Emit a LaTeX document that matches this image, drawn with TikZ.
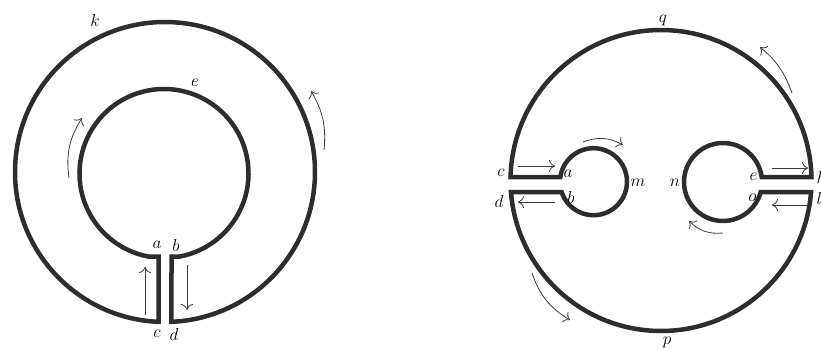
\documentclass[tikz,border=0pt]{standalone}
\usetikzlibrary{arrows.meta,calc}
\definecolor{wallc}{RGB}{45,45,45}
\definecolor{arrc}{RGB}{60,60,60}
\begin{document}
\begin{tikzpicture}[x=1pt,y=1pt,
  wall/.style={draw=wallc,line width=4.5pt,line join=miter},
  flow/.style={draw=arrc,line width=0.8pt,-{Computer Modern Rightarrow[length=6pt,width=12pt]}},
  lab/.style={inner sep=0pt,font=\fontsize{16}{18}\selectfont}]
\useasboundingbox (0,0) rectangle (821,349);
% ---------- left figure ----------
\coordinate (Co) at (165,177);
\coordinate (Ci) at (164,175.5);
\draw[wall] ($(Co)+(267.52:150)$) arc[start angle=267.52,end angle=-87.52,radius=150]
  -- (171.5,92.5) -- ($(Ci)+(280.8:84.5)$) arc[start angle=280.8,end angle=619.2,radius=84.5]
  -- (158.5,92.5) -- cycle;
\node[lab] (k) at (95,329) {$k$};
\node[lab] (e) at (195,266) {$e$};
\node[lab] (a) at (157,104) {$a$};
\node[lab] (b) at (176,104) {$b$};
\node[lab] (c) at (157,15) {$c$};
\node[lab] (d) at (174,15) {$d$};
\coordinate (u1) at (145,34); \coordinate (u2) at (145,82);
\coordinate (v1) at (187,84); \coordinate (v2) at (187,39);
\draw[flow] (u1) -- (u2);
\draw[flow] (v1) -- (v2);
\coordinate (w1) at (69,171); \coordinate (w2) at (82,231);
\draw[flow] (w1) to[bend left=20] (w2);
\coordinate (x1) at (324,199); \coordinate (x2) at (311,258);
\draw[flow] (x1) to[bend right=18] (x2);
% ---------- right figure ----------
\coordinate (Or) at (661,168.5);
\coordinate (Sl) at (593.5,167.3);
\coordinate (Sr) at (723,167);
\draw[wall] ($(Or)+(178.667:150.5)$) arc[start angle=178.667,end angle=1.333,radius=150.5]
  -- ($(Sr)+(7.366:39)$) arc[start angle=7.366,end angle=345.14,radius=39]
  -- ($(Or)+(-4.382:150.5)$) arc[start angle=-4.382,end angle=-175.618,radius=150.5]
  -- ($(Sl)+(197.906:33.5)$) arc[start angle=197.906,end angle=531.935,radius=33.5]
  -- cycle;
\node[lab] (q) at (663,329) {$q$};
\node[lab] (p) at (667,7) {$p$};
\node[lab] (c2) at (501,176) {$c$};
\node[lab] (d2) at (499,148) {$d$};
\node[lab] (a2) at (568,175) {$a$};
\node[lab] (b2) at (571,152) {$b$};
\node[lab] (m) at (638,166) {$m$};
\node[lab] (n) at (675,166) {$n$};
\node[lab] (e2) at (753.5,172) {$e$};
\node[lab] (o) at (752.5,151) {$o$};
\node[lab,anchor=west] (h) at (816.5,172) {$h$};
\node[lab,anchor=west] (l) at (816.5,151) {$l$};
\coordinate (r1) at (518,183); \coordinate (r2) at (555,183);
\coordinate (s1) at (555,147); \coordinate (s2) at (518,147);
\coordinate (t1) at (772,181); \coordinate (t2) at (808,181);
\coordinate (y1) at (808,144); \coordinate (y2) at (772,144);
\draw[flow] (r1) -- (r2);
\draw[flow] (s1) -- (s2);
\draw[flow] (t1) -- (t2);
\draw[flow] (y1) -- (y2);
\coordinate (f1) at (583,207); \coordinate (f2) at (623,204);
\draw[flow] (f1) to[bend left=25] (f2);
\coordinate (g1) at (723,116); \coordinate (g2) at (689,128);
\draw[flow] (g1) to[bend left=25] (g2);
\coordinate (h1) at (792,256); \coordinate (h2) at (760,302);
\draw[flow] (h1) to[bend right=15] (h2);
\coordinate (j1) at (532,76); \coordinate (j2) at (570,29);
\draw[flow] (j1) to[bend right=20] (j2);
\end{tikzpicture}
\end{document}
